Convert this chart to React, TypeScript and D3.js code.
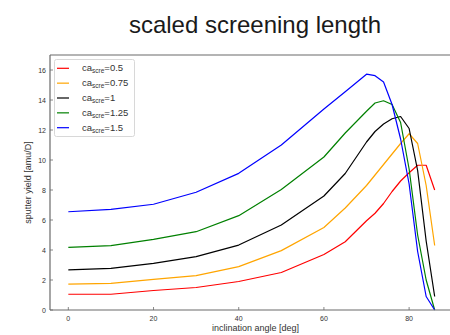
import React from "react";
import * as d3 from "d3";

const angles = [0, 10, 20, 30, 40, 50, 60, 65, 70, 72, 74, 76, 78, 80, 82, 84, 86];

const yieldRed = [1.05, 1.05, 1.3, 1.5, 1.9, 2.5, 3.7, 4.55, 5.95, 6.45, 7.1, 7.9, 8.6, 9.15, 9.65, 9.65, 8.0];
const yieldOrange = [1.72, 1.78, 2.04, 2.29, 2.89, 3.96, 5.5, 6.8, 8.3, 9.0, 9.7, 10.4, 11.1, 11.75, 11.1, 8.3, 4.3];
const yieldBlack = [2.67, 2.78, 3.11, 3.56, 4.33, 5.67, 7.6, 9.1, 11.2, 11.9, 12.4, 12.75, 12.9, 12.1, 9.3, 4.6, 0.9];
const yieldGreen = [4.18, 4.29, 4.71, 5.22, 6.29, 8.04, 10.2, 11.8, 13.25, 13.8, 13.95, 13.7, 12.5, 9.4, 5.0, 2.0, 0.0];
const yieldBlue = [6.55, 6.71, 7.05, 7.85, 9.11, 11.0, 13.4, 14.55, 15.72, 15.62, 15.2, 13.7, 11.4, 8.4, 3.9, 0.9, 0.0];

const seriesLabels = ["0.5", "0.75", "1", "1.25", "1.5"];
const seriesColors = ["#ff0000", "#ffa500", "#000000", "#008000", "#0000ff"];
const seriesValues = [yieldRed, yieldOrange, yieldBlack, yieldGreen, yieldBlue];

const xTicks = [0, 20, 40, 60, 80];
const yTicks = [0, 2, 4, 6, 8, 10, 12, 14, 16];

const App = () => {
  const width = 450;
  const height = 335;
  const left = 50;
  const right = 453;
  const top = 55;
  const bottom = 310;

  const x = d3.scaleLinear().domain([-4.3, 90.3]).range([left, right]);
  const y = d3.scaleLinear().domain([0, 17]).range([bottom, top]);

  const line = d3
    .line<[number, number]>()
    .x((d) => x(d[0]))
    .y((d) => y(d[1]));

  const axisColor = "#6a6a6a";
  const tickFont = 7;

  return (
    <svg
      width={width}
      height={height}
      style={{ position: "absolute", left: 0, top: 0, background: "#fff" }}
      fontFamily="Liberation Sans, Arial, sans-serif"
    >
      <text x={255} y={33} textAnchor="middle" fontSize={24} fill="#1a1a1a">
        scaled screening length
      </text>

      <defs>
        <clipPath id="plotClip">
          <rect x={left} y={top} width={right - left} height={bottom - top + 1} />
        </clipPath>
      </defs>

      {/* series */}
      <g clipPath="url(#plotClip)">
        {seriesValues.map((vals, i) => (
          <path
            key={i}
            d={line(angles.map((a, j) => [a, vals[j]] as [number, number])) || ""}
            fill="none"
            stroke={seriesColors[i]}
            strokeWidth={1.2}
            strokeLinejoin="round"
          />
        ))}
      </g>

      {/* frame */}
      <line x1={left} x2={right} y1={top} y2={top} stroke={axisColor} strokeWidth={1.2} />
      <line x1={left} x2={left} y1={top} y2={bottom} stroke={axisColor} strokeWidth={1.2} />
      <line x1={left} x2={right} y1={bottom} y2={bottom} stroke={axisColor} strokeWidth={1.2} />

      {/* x ticks */}
      {xTicks.map((t) => (
        <g key={t}>
          <line x1={x(t)} x2={x(t)} y1={bottom} y2={bottom - 3} stroke={axisColor} strokeWidth={0.8} />
          <text x={x(t)} y={bottom + 10.5} textAnchor="middle" fontSize={tickFont} fill="#333">
            {t}
          </text>
        </g>
      ))}

      {/* y ticks */}
      {yTicks.map((t) => (
        <g key={t}>
          <line x1={left} x2={left + 3} y1={y(t)} y2={y(t)} stroke={axisColor} strokeWidth={0.8} />
          <text x={left - 4} y={y(t) + 2.5} textAnchor="end" fontSize={tickFont} fill="#333">
            {t}
          </text>
        </g>
      ))}

      <text x={(left + right) / 2 + 4} y={331} textAnchor="middle" fontSize={9} fill="#333">
        inclination angle [deg]
      </text>
      <text
        transform={`translate(31, ${(top + bottom) / 2}) rotate(-90)`}
        textAnchor="middle"
        fontSize={9}
        fill="#333"
      >
        sputter yield [amu/D]
      </text>

      {/* legend */}
      <rect x={54.5} y={59.5} width={80} height={77} rx={2} fill="#fff" stroke="#d8d8d8" strokeWidth={1} />
      {seriesLabels.map((lab, i) => {
        const ly = 68.3 + i * 14.85;
        return (
          <g key={lab}>
            <line x1={57} x2={69} y1={ly} y2={ly} stroke={seriesColors[i]} strokeWidth={1.2} />
            <text x={82} y={ly + 3} fontSize={9.5} fill="#333">
              ca
              <tspan fontSize={6.5} dy={2}>scre</tspan>
              <tspan dy={-2}>={lab}</tspan>
            </text>
          </g>
        );
      })}
    </svg>
  );
};

export default App;
